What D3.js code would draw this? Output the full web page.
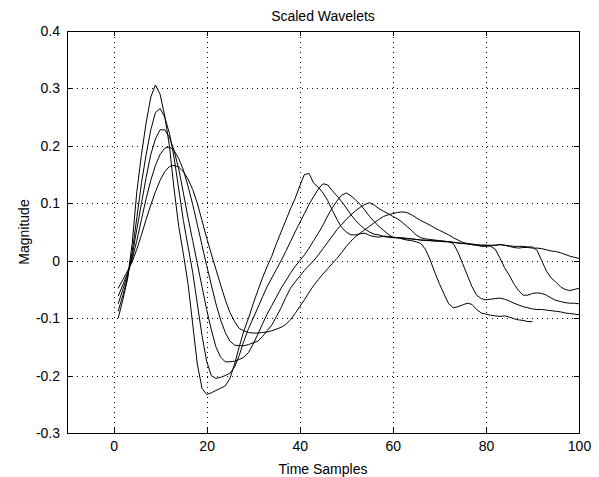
<!DOCTYPE html>
<html>
<head>
<meta charset="utf-8">
<script src="https://cdn.jsdelivr.net/npm/d3@7"></script>
<style>
body { margin: 0; background: #fff; }
text { font-family: Arial, "Liberation Sans", sans-serif; fill: #000; }
</style>
</head>
<body>
<div class="viz"></div>
<script>
// samples start at t = 1
var wavelet1 = [-0.100,-0.068,-0.032,0.030,0.120,0.185,0.240,0.285,0.306,0.290,
    0.252,0.200,0.125,0.060,0.012,-0.040,-0.110,-0.180,-0.222,-0.233,
    -0.230,-0.226,-0.222,-0.218,-0.205,-0.180,-0.150,-0.122,-0.100,-0.075,
    -0.052,-0.030,-0.010,0.008,0.030,0.050,0.070,0.090,0.108,0.130,
    0.150,0.152,0.135,0.128,0.118,0.105,0.088,0.072,0.058,0.050,
    0.045,0.045,0.047,0.048,0.044,0.042,0.041,0.043,0.042,0.041,
    0.040,0.038,0.036,0.035,0.033,0.030,0.020,0.002,-0.020,-0.040,
    -0.058,-0.075,-0.082,-0.080,-0.077,-0.074,-0.076,-0.085,-0.091,-0.093,
    -0.095,-0.096,-0.097,-0.096,-0.098,-0.101,-0.103,-0.104,-0.106,-0.106];

var wavelet2 = [-0.088,-0.060,-0.030,0.015,0.075,0.135,0.185,0.228,0.258,0.265,
    0.250,0.222,0.180,0.125,0.070,0.025,-0.020,-0.075,-0.130,-0.175,
    -0.200,-0.205,-0.203,-0.200,-0.196,-0.185,-0.165,-0.140,-0.118,-0.100,
    -0.082,-0.063,-0.045,-0.030,-0.015,0.000,0.016,0.033,0.050,0.066,
    0.082,0.098,0.112,0.125,0.134,0.132,0.122,0.113,0.103,0.092,
    0.080,0.070,0.062,0.055,0.050,0.046,0.045,0.042,0.041,0.040,
    0.040,0.039,0.038,0.038,0.037,0.036,0.036,0.035,0.035,0.034,
    0.034,0.033,0.030,0.015,-0.005,-0.025,-0.045,-0.060,-0.066,-0.068,
    -0.067,-0.066,-0.065,-0.067,-0.070,-0.074,-0.077,-0.080,-0.082,-0.084,
    -0.085,-0.085,-0.086,-0.087,-0.088,-0.089,-0.091,-0.092,-0.093,-0.094];

var wavelet3 = [-0.075,-0.050,-0.025,0.008,0.055,0.100,0.145,0.185,0.212,0.228,
    0.228,0.215,0.192,0.160,0.118,0.075,0.035,-0.005,-0.045,-0.085,
    -0.120,-0.150,-0.168,-0.176,-0.176,-0.175,-0.172,-0.168,-0.160,-0.145,
    -0.128,-0.110,-0.093,-0.078,-0.063,-0.048,-0.035,-0.022,-0.010,0.000,
    0.010,0.022,0.035,0.048,0.062,0.078,0.092,0.104,0.114,0.118,
    0.113,0.106,0.098,0.088,0.077,0.068,0.060,0.053,0.046,0.041,
    0.040,0.040,0.039,0.038,0.037,0.036,0.035,0.035,0.034,0.034,
    0.033,0.033,0.032,0.031,0.030,0.029,0.028,0.027,0.027,0.027,
    0.025,0.020,0.005,-0.012,-0.025,-0.040,-0.052,-0.060,-0.060,-0.057,
    -0.056,-0.057,-0.060,-0.065,-0.069,-0.071,-0.073,-0.074,-0.074,-0.075];

var wavelet4 = [-0.062,-0.042,-0.022,0.002,0.035,0.072,0.108,0.140,0.166,0.185,
    0.196,0.198,0.192,0.178,0.158,0.130,0.098,0.063,0.027,-0.008,
    -0.042,-0.075,-0.103,-0.125,-0.140,-0.147,-0.148,-0.148,-0.146,-0.143,
    -0.140,-0.132,-0.122,-0.112,-0.097,-0.082,-0.064,-0.048,-0.037,-0.027,
    -0.017,-0.008,0.000,0.010,0.021,0.032,0.043,0.054,0.063,0.072,
    0.080,0.087,0.093,0.098,0.101,0.097,0.091,0.086,0.082,0.077,
    0.073,0.067,0.060,0.053,0.045,0.040,0.038,0.037,0.036,0.035,
    0.034,0.033,0.032,0.031,0.030,0.030,0.029,0.028,0.027,0.027,
    0.027,0.027,0.028,0.027,0.026,0.025,0.025,0.025,0.024,0.024,
    0.018,0.000,-0.018,-0.030,-0.037,-0.045,-0.050,-0.052,-0.050,-0.048];

var wavelet5 = [-0.048,-0.033,-0.018,-0.002,0.020,0.045,0.072,0.097,0.120,0.140,
    0.155,0.164,0.166,0.163,0.155,0.142,0.124,0.100,0.070,0.040,
    0.012,-0.015,-0.042,-0.068,-0.090,-0.106,-0.118,-0.122,-0.125,-0.126,
    -0.126,-0.125,-0.124,-0.122,-0.119,-0.116,-0.111,-0.103,-0.092,-0.080,
    -0.068,-0.055,-0.043,-0.033,-0.023,-0.014,-0.005,0.004,0.014,0.025,
    0.034,0.042,0.048,0.054,0.060,0.066,0.072,0.077,0.080,0.082,
    0.084,0.085,0.084,0.080,0.075,0.070,0.066,0.062,0.057,0.053,
    0.049,0.045,0.040,0.036,0.032,0.030,0.028,0.027,0.025,0.025,
    0.026,0.027,0.028,0.027,0.025,0.023,0.022,0.023,0.023,0.022,
    0.022,0.021,0.019,0.017,0.016,0.014,0.011,0.008,0.006,0.004];

var series = [wavelet1, wavelet2, wavelet3, wavelet4, wavelet5];

var xTicks = [0, 20, 40, 60, 80, 100],
    yTicks = [-0.3, -0.2, -0.1, 0, 0.1, 0.2, 0.3, 0.4],
    yTickLabels = ["-0.3", "-0.2", "-0.1", "0", "0.1", "0.2", "0.3", "0.4"];

var xDomain = [-10, 100],
    yDomain = [-0.3, 0.4];

var width = 599,
    height = 477,
    boxLeft = 67, boxRight = 579, boxTop = 31, boxBottom = 433;

var svg = d3.select(".viz").append("svg")
    .attr("width", width)
    .attr("height", height);

var x = d3.scaleLinear().domain(xDomain).range([boxLeft, boxRight]);
var y = d3.scaleLinear().domain(yDomain).range([boxBottom, boxTop]);

// dotted grid, not on the box edges
var grid = svg.append("g")
    .attr("stroke", "#000")
    .attr("stroke-width", 1)
    .attr("stroke-dasharray", "1,4")
    .attr("shape-rendering", "crispEdges");

grid.selectAll(".gx")
    .data(xTicks.filter(function(d) { return d > xDomain[0] && d < xDomain[1]; }))
    .enter().append("line")
    .attr("x1", function(d) { return Math.round(x(d)) + 0.5; })
    .attr("x2", function(d) { return Math.round(x(d)) + 0.5; })
    .attr("y1", boxBottom)
    .attr("y2", boxTop);

grid.selectAll(".gy")
    .data(yTicks.filter(function(d) { return d > yDomain[0] && d < yDomain[1]; }))
    .enter().append("line")
    .attr("y1", function(d) { return Math.round(y(d)) + 0.5; })
    .attr("y2", function(d) { return Math.round(y(d)) + 0.5; })
    .attr("x1", boxLeft)
    .attr("x2", boxRight);

// wavelets
var line = d3.line()
    .x(function(d, i) { return x(i + 1); })
    .y(function(d) { return y(d); });

svg.append("g").selectAll("path")
    .data(series)
    .enter().append("path")
    .attr("d", line)
    .attr("fill", "none")
    .attr("stroke", "#000")
    .attr("stroke-width", 1);

// axes with inward ticks on all four sides
var fmt = function(d) { return yTickLabels[yTicks.indexOf(d)]; };

function styleAxis(g) {
    g.select(".domain").remove();
    g.selectAll(".tick line").attr("stroke", "#000").attr("shape-rendering", "crispEdges");
    g.selectAll("text").attr("font-size", "14px").attr("fill", "#000")
        .attr("font-family", "Arial, 'Liberation Sans', sans-serif");
}

svg.append("g")
    .attr("transform", "translate(0," + boxBottom + ")")
    .call(d3.axisBottom(x).tickValues(xTicks).tickSize(-5).tickPadding(8).tickFormat(d3.format("d")))
    .call(styleAxis);

svg.append("g")
    .attr("transform", "translate(0," + boxTop + ")")
    .call(d3.axisTop(x).tickValues(xTicks).tickSize(-5).tickFormat(""))
    .call(styleAxis);

svg.append("g")
    .attr("transform", "translate(" + boxLeft + ",0)")
    .call(d3.axisLeft(y).tickValues(yTicks).tickSize(-5).tickPadding(7).tickFormat(fmt))
    .call(styleAxis);

svg.append("g")
    .attr("transform", "translate(" + boxRight + ",0)")
    .call(d3.axisRight(y).tickValues(yTicks).tickSize(-5).tickFormat(""))
    .call(styleAxis);

svg.append("rect")
    .attr("x", boxLeft + 0.5)
    .attr("y", boxTop + 0.5)
    .attr("width", boxRight - boxLeft)
    .attr("height", boxBottom - boxTop)
    .attr("fill", "none")
    .attr("stroke", "#000")
    .attr("shape-rendering", "crispEdges");

// labels
svg.append("text")
    .attr("x", (boxLeft + boxRight) / 2)
    .attr("y", 20.5)
    .attr("text-anchor", "middle")
    .attr("font-size", "14px")
    .text("Scaled Wavelets");

svg.append("text")
    .attr("x", (boxLeft + boxRight) / 2)
    .attr("y", 474)
    .attr("text-anchor", "middle")
    .attr("font-size", "14px")
    .text("Time Samples");

svg.append("text")
    .attr("transform", "translate(28.5," + ((boxTop + boxBottom) / 2) + ") rotate(-90)")
    .attr("text-anchor", "middle")
    .attr("font-size", "14px")
    .text("Magnitude");
</script>
</body>
</html>
